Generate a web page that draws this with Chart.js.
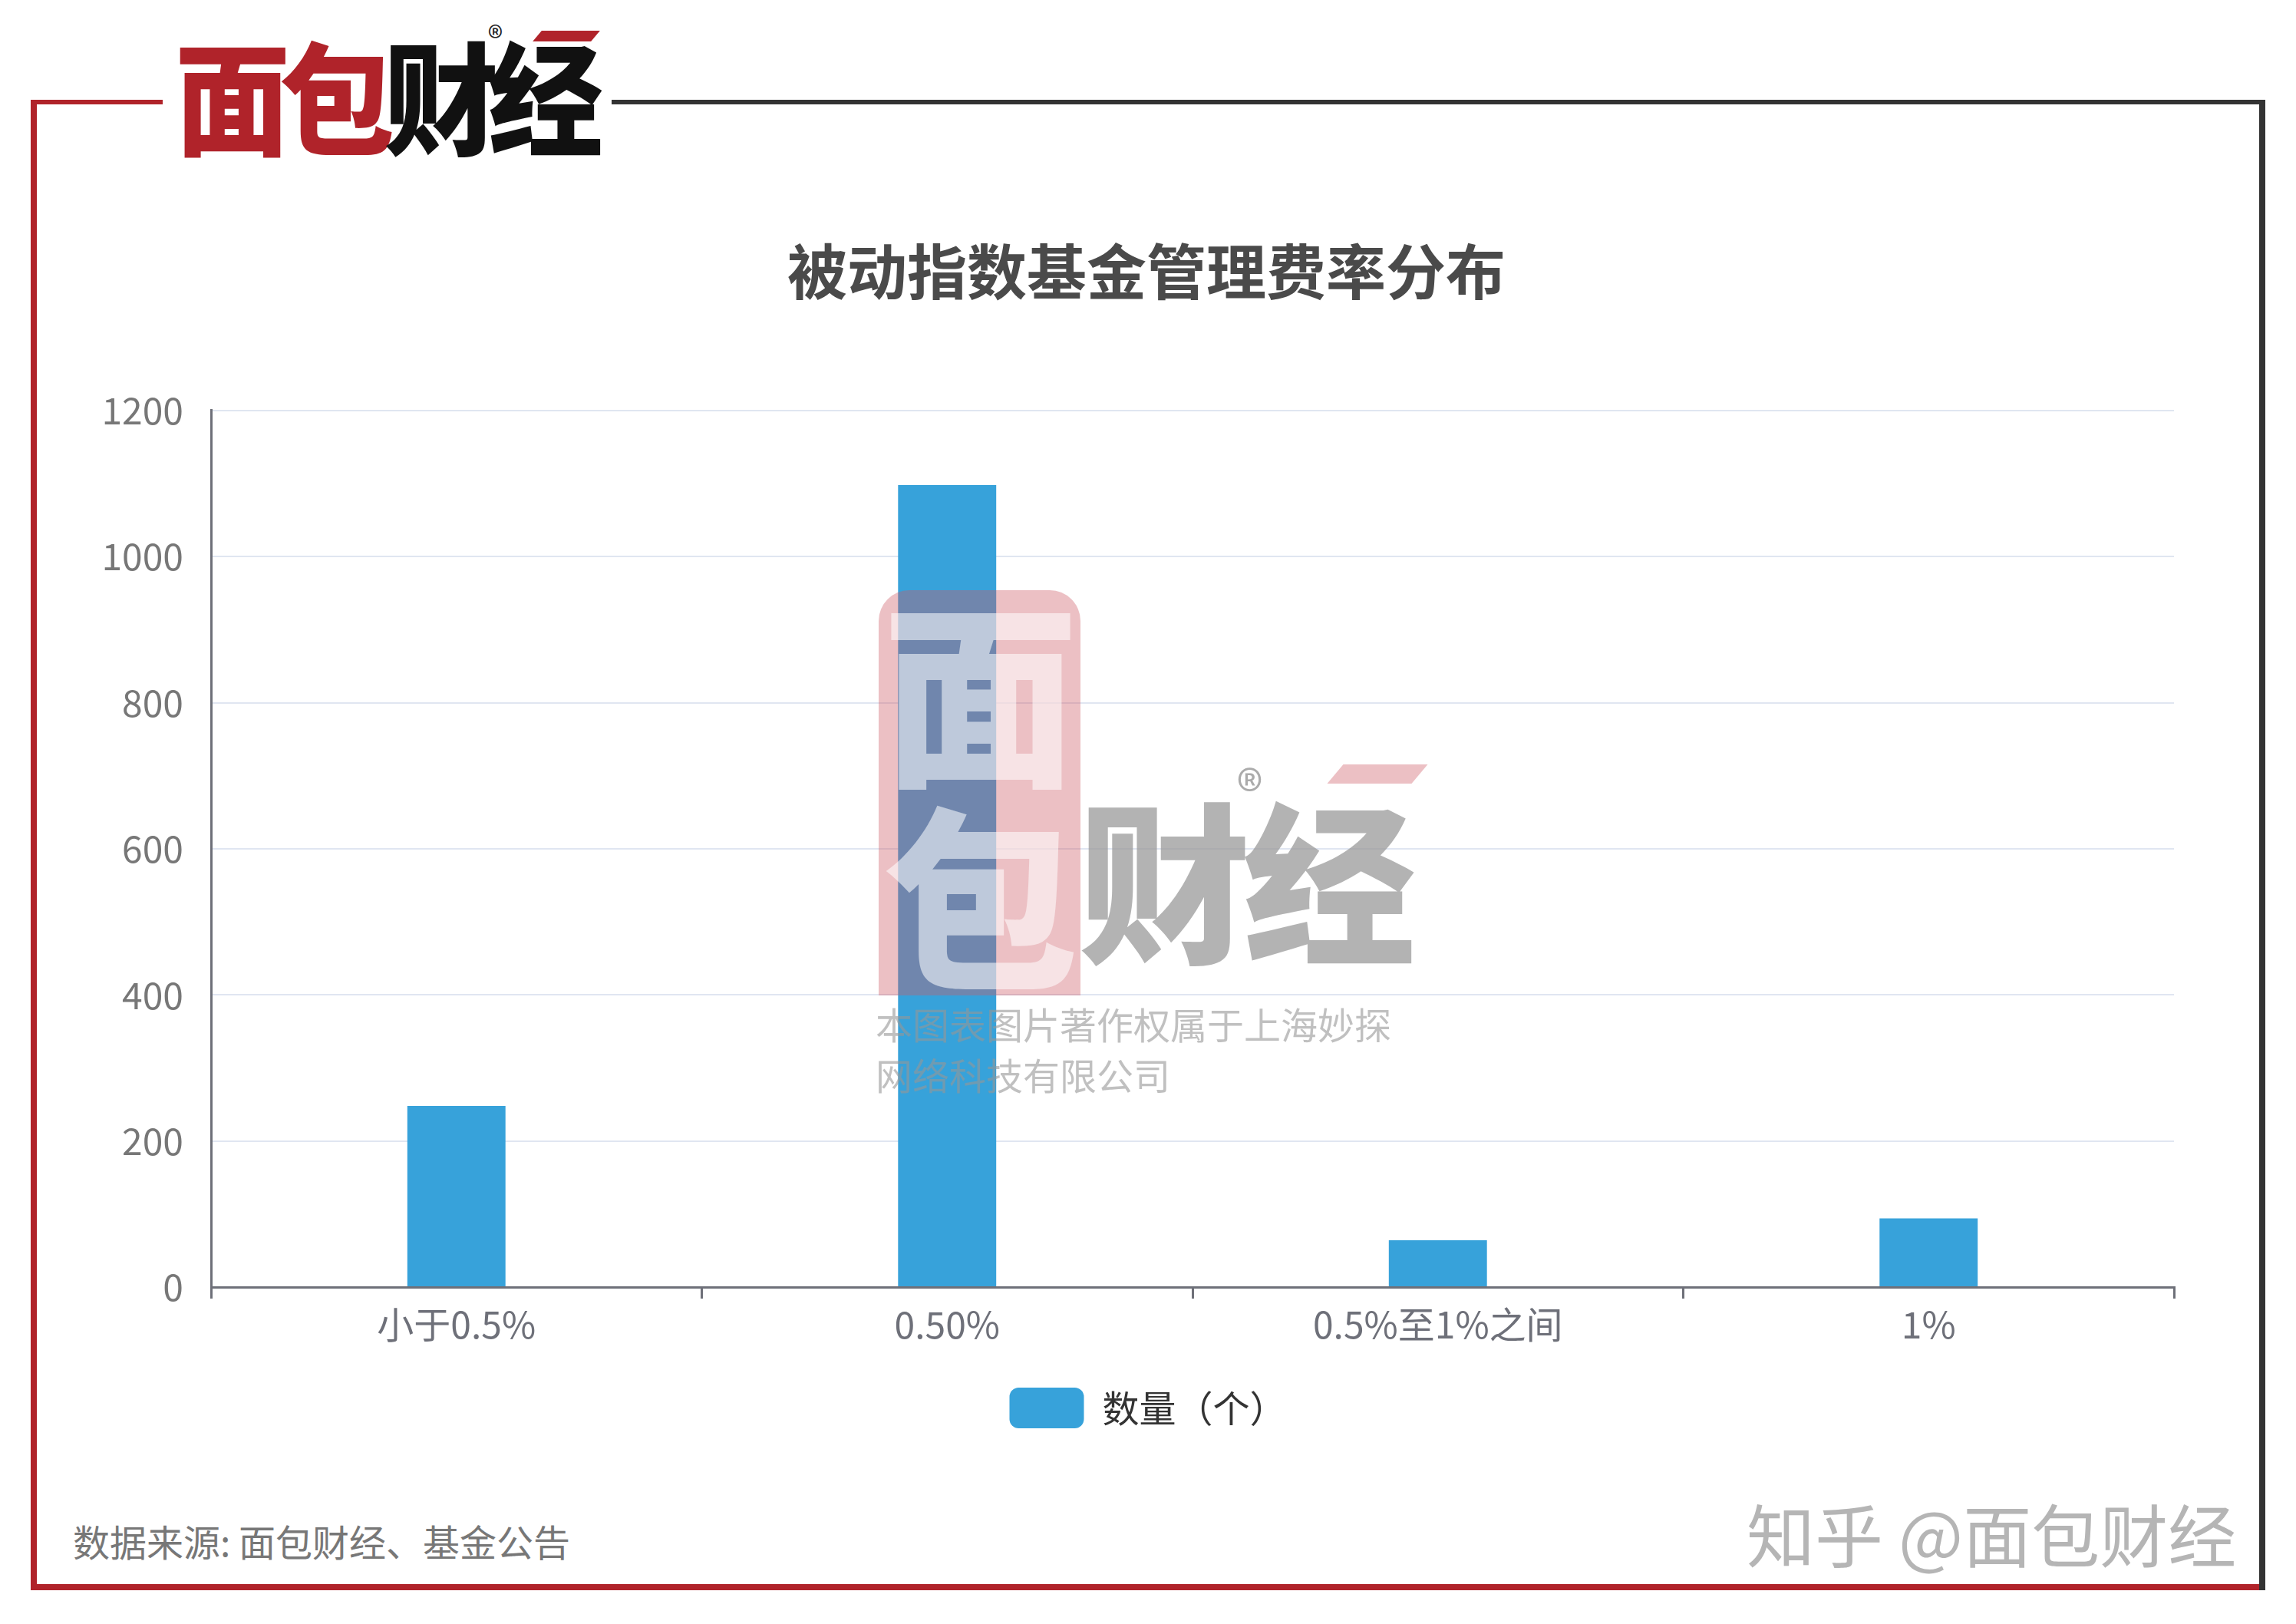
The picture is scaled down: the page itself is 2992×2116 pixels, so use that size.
<!DOCTYPE html>
<html>
<head>
<meta charset="utf-8">
<script src="https://cdn.jsdelivr.net/npm/chart.js@4.4.1/dist/chart.umd.min.js"></script>
<style>
  body { margin: 0; width: 2992px; height: 2116px; background: #fff; position: relative; overflow: hidden;
         font-family: "Noto Sans CJK SC", "Noto Sans", sans-serif; }
  .abs { position: absolute; }
  .wm { pointer-events: none; z-index: 5; }
</style>
</head>
<body>
<!-- frame -->
<div class="abs" style="left:40px;top:130px;width:8px;height:1942px;background:#b0232a"></div>
<div class="abs" style="left:40px;top:2064px;width:2912px;height:8px;background:#b0232a"></div>
<div class="abs" style="left:40px;top:130px;width:172px;height:6px;background:#b0232a"></div>
<div class="abs" style="left:797px;top:130px;width:2155px;height:6px;background:#333"></div>
<div class="abs" style="left:2944px;top:130px;width:8px;height:1942px;background:#333"></div>

<!-- logo -->
<div class="abs" style="left:228px;top:26px;font-size:150px;font-weight:900;line-height:1.2;letter-spacing:-14px;white-space:nowrap;transform:scaleY(1.06);transform-origin:top left">
  <span style="color:#b0232a">面包</span><span style="color:#111">财经</span>
</div>
<div class="abs" style="left:636px;top:18px;font-size:40px;color:#222">®</div>
<div class="abs" style="left:700px;top:40px;width:76px;height:14px;background:#b0232a;transform:skewX(-40deg)"></div>

<!-- title -->
<div class="abs" style="left:0;width:2988px;top:300px;text-align:center;font-size:78px;font-weight:700;color:#4a4a4a;line-height:100px">被动指数基金管理费率分布</div>

<!-- chart -->
<div class="abs" style="left:0;top:470px;width:2992px;height:1430px">
  <canvas id="feeChart"></canvas>
</div>

<!-- centre watermark -->
<div class="abs wm" style="left:1145px;top:769px;width:263px;height:528px;border-radius:40px 40px 0 0;background:rgba(205,90,100,0.38)"></div>
<div class="abs wm" style="left:1150px;top:760px;font-size:255px;font-weight:900;line-height:265px;color:rgba(255,255,255,0.55)">面<br>包</div>
<div class="abs wm" style="left:1405px;top:1010px;font-size:225px;font-weight:900;line-height:260px;color:rgba(150,150,150,0.72);letter-spacing:-10px">财经</div>
<div class="abs wm" style="left:1612px;top:975px;font-size:70px;color:rgba(150,150,150,0.8)">®</div>
<div class="abs wm" style="left:1740px;top:996px;width:110px;height:25px;background:rgba(205,90,100,0.38);transform:skewX(-40deg)"></div>
<div class="abs wm" style="left:1141px;top:1300px;font-size:48px;line-height:66px;color:rgba(150,150,150,0.6);white-space:nowrap">本图表图片著作权属于上海妙探<br>网络科技有限公司</div>

<!-- footer -->
<div class="abs" style="left:95px;top:1975px;font-size:48px;line-height:64px;color:#777">数据来源: 面包财经、基金公告</div>
<div class="abs" style="left:2276px;top:1942px;font-size:89px;line-height:110px;color:#b5b5b5;white-space:nowrap;text-shadow:-3px -3px 0 #fff">知乎 @面包财经</div>

<script>
document.addEventListener('DOMContentLoaded', function() {
    const ctx = document.getElementById('feeChart').getContext('2d');

    // values
    const categories = ['小于0.5%', '0.50%', '0.5%至1%之间', '1%'];
    const counts = [248, 1098, 64, 94];
    const seriesLabel = '数量（个）';
    const yMax = 1200;
    const yStep = 200;

    const axisGray = '#6e7079';

    // the legend in the picture sits a little right of centre
    const legendNudge = {
        id: 'legendNudge',
        afterLayout(chart) {
            if (chart.legend) chart.legend.left += 84;
        }
    };

    new Chart(ctx, {
        type: 'bar',
        data: {
            labels: categories,
            datasets: [{
                label: seriesLabel,
                data: counts,
                backgroundColor: '#37a2da',
                borderWidth: 0,
                categoryPercentage: 1.0,
                barPercentage: 0.2
            }]
        },
        options: {
            responsive: true,
            maintainAspectRatio: false,
            animation: false,
            layout: {
                padding: { left: 75, right: 159, top: 63, bottom: 29 }
            },
            plugins: {
                legend: {
                    position: 'bottom',
                    labels: {
                        boxWidth: 97,
                        boxHeight: 53,
                        useBorderRadius: true,
                        borderRadius: 12,
                        color: '#333',
                        padding: 10,
                        font: { size: 48, family: '"Noto Sans CJK SC"' }
                    }
                },
                title: { display: false },
                tooltip: { enabled: false }
            },
            scales: {
                x: {
                    grid: {
                        display: true,
                        drawOnChartArea: false,
                        drawTicks: true,
                        tickLength: 15,
                        offset: true,
                        color: axisGray,
                        lineWidth: 3
                    },
                    border: { display: true, color: axisGray, width: 3 },
                    ticks: {
                        color: axisGray,
                        padding: 5,
                        font: { size: 48, family: '"Noto Sans CJK SC"' }
                    },
                    afterFit: function(scale) { scale.height = 121; }
                },
                y: {
                    min: 0,
                    max: yMax,
                    ticks: {
                        stepSize: yStep,
                        color: '#777',
                        padding: 36,
                        font: { size: 48, family: '"Noto Sans CJK SC"' },
                        callback: function(v) { return String(v); }
                    },
                    grid: {
                        color: '#e0e6f1',
                        lineWidth: 2,
                        drawTicks: false
                    },
                    border: { display: true, color: axisGray, width: 3 },
                    afterFit: function(scale) { scale.width = 200; }
                }
            }
        },
        plugins: [legendNudge]
    });
});
</script>
</body>
</html>
